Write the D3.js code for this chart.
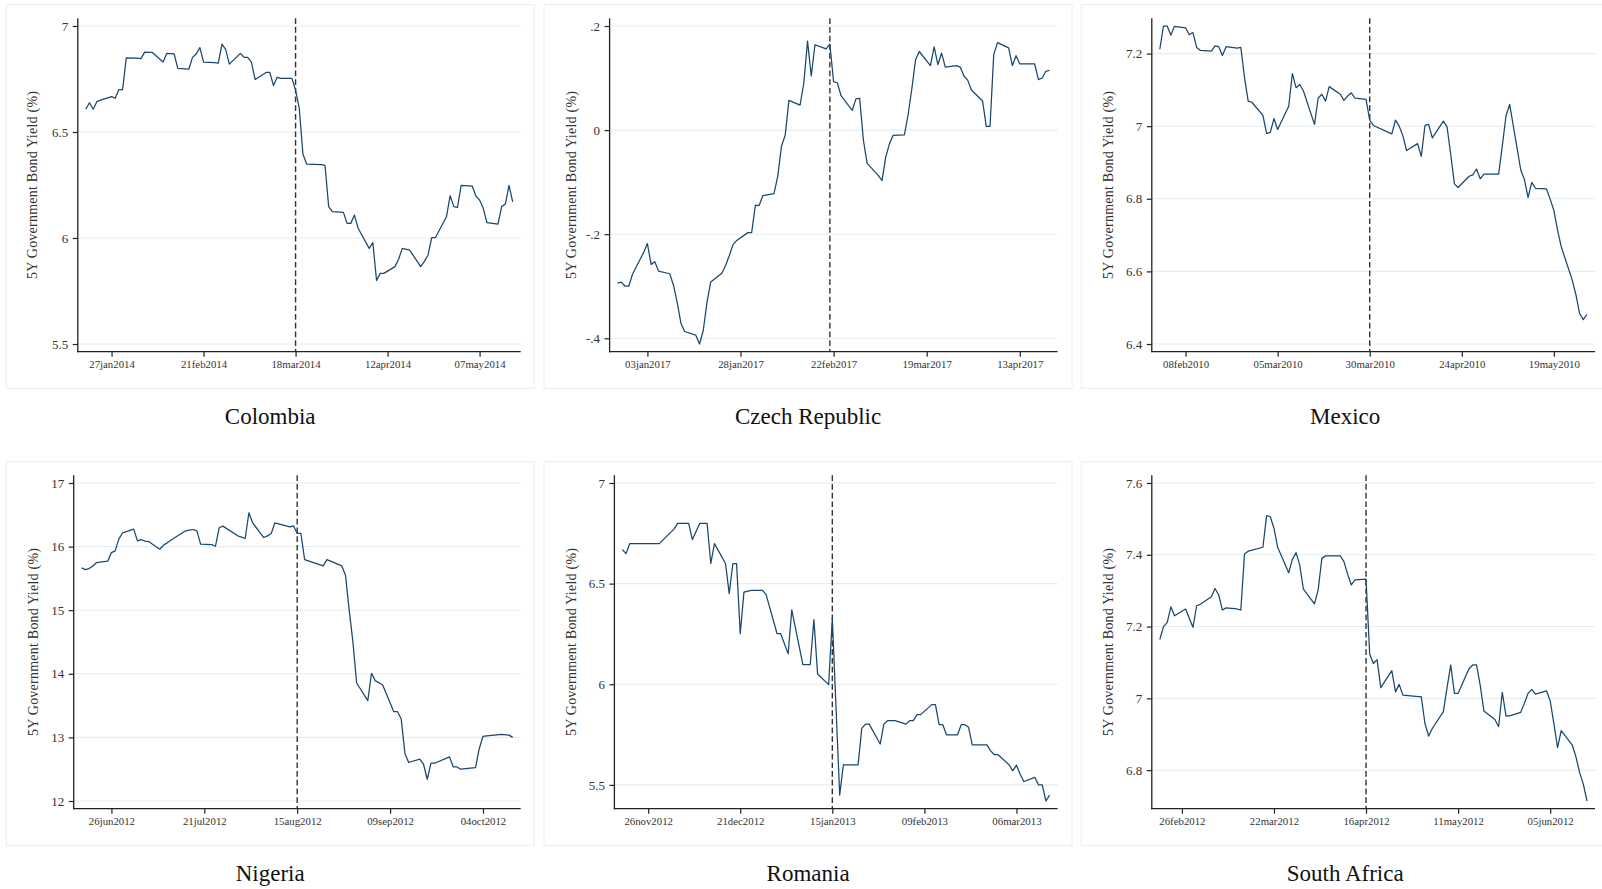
<!DOCTYPE html>
<html><head><meta charset="utf-8">
<script src="https://cdn.jsdelivr.net/npm/d3@7"></script>
<style>
body{margin:0;background:#fff}
svg{display:block}
text{font-family:"Liberation Serif","Times New Roman",serif}
</style>
</head><body>
<svg id="chart" width="1602" height="889"></svg>
<script>
// ---------- DATA ----------
const colombia = [["2014-01-20",6.607],["2014-01-21",6.638],["2014-01-22",6.607],["2014-01-23",6.643],["2014-01-24",6.650],["2014-01-27",6.667],["2014-01-28",6.659],["2014-01-29",6.700],["2014-01-30",6.700],["2014-01-31",6.850],["2014-02-03",6.848],["2014-02-04",6.846],["2014-02-05",6.877],["2014-02-06",6.876],["2014-02-07",6.876],["2014-02-10",6.830],["2014-02-11",6.871],["2014-02-12",6.870],["2014-02-13",6.868],["2014-02-14",6.800],["2014-02-17",6.796],["2014-02-18",6.852],["2014-02-19",6.868],["2014-02-20",6.898],["2014-02-21",6.830],["2014-02-24",6.827],["2014-02-25",6.825],["2014-02-26",6.914],["2014-02-27",6.890],["2014-02-28",6.820],["2014-03-03",6.871],["2014-03-04",6.852],["2014-03-05",6.852],["2014-03-06",6.830],["2014-03-07",6.748],["2014-03-10",6.781],["2014-03-11",6.781],["2014-03-12",6.719],["2014-03-13",6.758],["2014-03-14",6.753],["2014-03-17",6.753],["2014-03-18",6.698],["2014-03-19",6.612],["2014-03-20",6.396],["2014-03-21",6.349],["2014-03-25",6.346],["2014-03-26",6.343],["2014-03-27",6.148],["2014-03-28",6.124],["2014-03-31",6.121],["2014-04-01",6.069],["2014-04-02",6.069],["2014-04-03",6.108],["2014-04-04",6.046],["2014-04-07",5.951],["2014-04-08",5.978],["2014-04-09",5.800],["2014-04-10",5.833],["2014-04-11",5.833],["2014-04-14",5.865],["2014-04-15",5.900],["2014-04-16",5.951],["2014-04-18",5.943],["2014-04-21",5.865],["2014-04-22",5.890],["2014-04-23",5.920],["2014-04-24",6.002],["2014-04-25",6.002],["2014-04-28",6.100],["2014-04-29",6.200],["2014-04-30",6.148],["2014-05-01",6.145],["2014-05-02",6.248],["2014-05-05",6.245],["2014-05-06",6.198],["2014-05-07",6.179],["2014-05-08",6.140],["2014-05-09",6.072],["2014-05-12",6.066],["2014-05-13",6.148],["2014-05-14",6.160],["2014-05-15",6.248],["2014-05-16",6.170]];

const czechRepublic = [["2016-12-26",-0.294],["2016-12-27",-0.292],["2016-12-28",-0.300],["2016-12-29",-0.300],["2016-12-30",-0.277],["2017-01-02",-0.235],["2017-01-03",-0.218],["2017-01-04",-0.258],["2017-01-05",-0.253],["2017-01-06",-0.271],["2017-01-09",-0.276],["2017-01-10",-0.298],["2017-01-11",-0.331],["2017-01-12",-0.371],["2017-01-13",-0.387],["2017-01-16",-0.394],["2017-01-17",-0.411],["2017-01-18",-0.385],["2017-01-19",-0.331],["2017-01-20",-0.292],["2017-01-23",-0.275],["2017-01-24",-0.260],["2017-01-25",-0.241],["2017-01-26",-0.220],["2017-01-27",-0.212],["2017-01-30",-0.197],["2017-01-31",-0.197],["2017-02-01",-0.144],["2017-02-02",-0.145],["2017-02-03",-0.126],["2017-02-06",-0.122],["2017-02-07",-0.089],["2017-02-08",-0.031],["2017-02-09",-0.010],["2017-02-10",0.057],["2017-02-13",0.048],["2017-02-14",0.090],["2017-02-15",0.171],["2017-02-16",0.104],["2017-02-17",0.164],["2017-02-20",0.156],["2017-02-21",0.165],["2017-02-22",0.093],["2017-02-23",0.091],["2017-02-24",0.066],["2017-02-27",0.038],["2017-02-28",0.060],["2017-03-01",0.061],["2017-03-02",-0.019],["2017-03-03",-0.064],["2017-03-06",-0.087],["2017-03-07",-0.097],["2017-03-08",-0.052],["2017-03-09",-0.026],["2017-03-10",-0.010],["2017-03-13",-0.009],["2017-03-14",0.029],["2017-03-15",0.079],["2017-03-16",0.135],["2017-03-17",0.151],["2017-03-20",0.124],["2017-03-21",0.160],["2017-03-22",0.126],["2017-03-23",0.148],["2017-03-24",0.121],["2017-03-27",0.124],["2017-03-28",0.121],["2017-03-29",0.104],["2017-03-30",0.096],["2017-03-31",0.077],["2017-04-03",0.056],["2017-04-04",0.007],["2017-04-05",0.007],["2017-04-06",0.145],["2017-04-07",0.168],["2017-04-10",0.158],["2017-04-11",0.124],["2017-04-12",0.143],["2017-04-13",0.127],["2017-04-17",0.127],["2017-04-18",0.097],["2017-04-19",0.100],["2017-04-20",0.113],["2017-04-21",0.115]];

const mexico = [["2010-02-01",7.212],["2010-02-02",7.276],["2010-02-03",7.276],["2010-02-04",7.251],["2010-02-05",7.275],["2010-02-08",7.271],["2010-02-09",7.252],["2010-02-10",7.258],["2010-02-11",7.217],["2010-02-12",7.209],["2010-02-15",7.207],["2010-02-16",7.221],["2010-02-17",7.219],["2010-02-18",7.195],["2010-02-19",7.219],["2010-02-22",7.215],["2010-02-23",7.217],["2010-02-24",7.134],["2010-02-25",7.069],["2010-02-26",7.066],["2010-03-01",7.030],["2010-03-02",6.980],["2010-03-03",6.983],["2010-03-04",7.021],["2010-03-05",6.991],["2010-03-08",7.055],["2010-03-09",7.145],["2010-03-10",7.106],["2010-03-11",7.115],["2010-03-12",7.097],["2010-03-15",7.005],["2010-03-16",7.077],["2010-03-17",7.088],["2010-03-18",7.069],["2010-03-19",7.109],["2010-03-22",7.088],["2010-03-23",7.071],["2010-03-24",7.083],["2010-03-25",7.092],["2010-03-26",7.077],["2010-03-29",7.074],["2010-03-30",7.017],["2010-03-31",7.002],["2010-04-05",6.979],["2010-04-06",7.017],["2010-04-07",7.000],["2010-04-08",6.974],["2010-04-09",6.933],["2010-04-12",6.952],["2010-04-13",6.917],["2010-04-14",7.002],["2010-04-15",7.005],["2010-04-16",6.968],["2010-04-19",7.014],["2010-04-20",6.998],["2010-04-21",6.922],["2010-04-22",6.841],["2010-04-23",6.831],["2010-04-26",6.862],["2010-04-27",6.866],["2010-04-28",6.882],["2010-04-29",6.855],["2010-04-30",6.868],["2010-05-03",6.868],["2010-05-04",6.868],["2010-05-05",6.945],["2010-05-06",7.028],["2010-05-07",7.060],["2010-05-10",6.880],["2010-05-11",6.853],["2010-05-12",6.804],["2010-05-13",6.845],["2010-05-14",6.829],["2010-05-17",6.827],["2010-05-18",6.799],["2010-05-19",6.768],["2010-05-20",6.714],["2010-05-21",6.668],["2010-05-24",6.576],["2010-05-25",6.535],["2010-05-26",6.484],["2010-05-27",6.467],["2010-05-28",6.482]];

const nigeria = [["2012-06-18",15.665],["2012-06-19",15.638],["2012-06-20",15.654],["2012-06-21",15.696],["2012-06-22",15.749],["2012-06-25",15.770],["2012-06-26",15.906],["2012-06-27",15.933],["2012-06-28",16.117],["2012-06-29",16.217],["2012-07-02",16.274],["2012-07-03",16.090],["2012-07-04",16.111],["2012-07-05",16.085],["2012-07-06",16.080],["2012-07-09",15.959],["2012-07-10",16.022],["2012-07-11",16.059],["2012-07-12",16.100],["2012-07-13",16.140],["2012-07-16",16.248],["2012-07-17",16.259],["2012-07-18",16.269],["2012-07-19",16.248],["2012-07-20",16.038],["2012-07-23",16.033],["2012-07-24",16.006],["2012-07-25",16.296],["2012-07-26",16.322],["2012-07-30",16.169],["2012-07-31",16.150],["2012-08-01",16.127],["2012-08-02",16.532],["2012-08-03",16.374],["2012-08-06",16.143],["2012-08-07",16.169],["2012-08-08",16.206],["2012-08-09",16.374],["2012-08-13",16.311],["2012-08-14",16.327],["2012-08-15",16.206],["2012-08-16",16.206],["2012-08-17",15.796],["2012-08-22",15.696],["2012-08-23",15.796],["2012-08-27",15.696],["2012-08-28",15.549],["2012-08-29",14.997],["2012-08-30",14.497],["2012-08-31",13.856],["2012-09-03",13.577],["2012-09-04",14.008],["2012-09-05",13.893],["2012-09-07",13.824],["2012-09-10",13.404],["2012-09-11",13.404],["2012-09-12",13.288],["2012-09-13",12.747],["2012-09-14",12.605],["2012-09-17",12.657],["2012-09-18",12.578],["2012-09-19",12.342],["2012-09-20",12.594],["2012-09-21",12.594],["2012-09-25",12.694],["2012-09-26",12.536],["2012-09-27",12.536],["2012-09-28",12.500],["2012-10-02",12.526],["2012-10-03",12.826],["2012-10-04",13.015],["2012-10-05",13.025],["2012-10-09",13.046],["2012-10-11",13.036],["2012-10-12",13.000]];

const romania = [["2012-11-19",6.669],["2012-11-20",6.649],["2012-11-21",6.699],["2012-11-22",6.699],["2012-11-23",6.699],["2012-11-26",6.699],["2012-11-27",6.699],["2012-11-28",6.699],["2012-11-29",6.699],["2012-12-03",6.771],["2012-12-04",6.799],["2012-12-05",6.799],["2012-12-06",6.799],["2012-12-07",6.799],["2012-12-08",6.719],["2012-12-10",6.799],["2012-12-11",6.799],["2012-12-12",6.799],["2012-12-13",6.600],["2012-12-14",6.699],["2012-12-17",6.600],["2012-12-18",6.450],["2012-12-19",6.600],["2012-12-20",6.600],["2012-12-21",6.251],["2012-12-22",6.458],["2012-12-24",6.467],["2012-12-27",6.467],["2012-12-28",6.447],["2012-12-31",6.251],["2013-01-01",6.251],["2013-01-03",6.151],["2013-01-04",6.370],["2013-01-07",6.098],["2013-01-09",6.098],["2013-01-10",6.321],["2013-01-11",6.051],["2013-01-14",5.998],["2013-01-15",6.326],["2013-01-17",5.449],["2013-01-18",5.600],["2013-01-22",5.600],["2013-01-23",5.781],["2013-01-24",5.802],["2013-01-25",5.802],["2013-01-28",5.703],["2013-01-29",5.802],["2013-01-30",5.819],["2013-02-01",5.819],["2013-02-04",5.802],["2013-02-05",5.819],["2013-02-06",5.819],["2013-02-07",5.849],["2013-02-08",5.849],["2013-02-11",5.899],["2013-02-12",5.899],["2013-02-13",5.799],["2013-02-14",5.799],["2013-02-15",5.749],["2013-02-18",5.749],["2013-02-19",5.799],["2013-02-20",5.799],["2013-02-21",5.786],["2013-02-22",5.699],["2013-02-26",5.699],["2013-02-27",5.669],["2013-02-28",5.650],["2013-03-01",5.650],["2013-03-04",5.600],["2013-03-05",5.570],["2013-03-06",5.598],["2013-03-07",5.553],["2013-03-08",5.517],["2013-03-11",5.537],["2013-03-12",5.500],["2013-03-13",5.500],["2013-03-14",5.420],["2013-03-15",5.449]];

const southAfrica = [["2012-02-20",7.164],["2012-02-21",7.200],["2012-02-22",7.211],["2012-02-23",7.255],["2012-02-24",7.230],["2012-02-27",7.249],["2012-02-28",7.223],["2012-02-29",7.198],["2012-03-01",7.258],["2012-03-02",7.262],["2012-03-05",7.283],["2012-03-06",7.306],["2012-03-07",7.288],["2012-03-08",7.246],["2012-03-09",7.252],["2012-03-12",7.249],["2012-03-13",7.246],["2012-03-14",7.402],["2012-03-15",7.410],["2012-03-19",7.421],["2012-03-20",7.509],["2012-03-21",7.506],["2012-03-22",7.474],["2012-03-23",7.421],["2012-03-26",7.350],["2012-03-27",7.387],["2012-03-28",7.406],["2012-03-29",7.371],["2012-03-30",7.304],["2012-04-02",7.263],["2012-04-03",7.302],["2012-04-04",7.390],["2012-04-05",7.397],["2012-04-09",7.397],["2012-04-10",7.381],["2012-04-11",7.346],["2012-04-12",7.316],["2012-04-13",7.330],["2012-04-16",7.332],["2012-04-17",7.123],["2012-04-18",7.097],["2012-04-19",7.108],["2012-04-20",7.030],["2012-04-23",7.077],["2012-04-24",7.018],["2012-04-25",7.039],["2012-04-26",7.009],["2012-05-01",7.004],["2012-05-02",6.930],["2012-05-03",6.895],["2012-05-04",6.916],["2012-05-07",6.963],["2012-05-08",7.030],["2012-05-09",7.093],["2012-05-10",7.014],["2012-05-11",7.014],["2012-05-14",7.083],["2012-05-15",7.093],["2012-05-16",7.093],["2012-05-17",7.037],["2012-05-18",6.965],["2012-05-21",6.941],["2012-05-22",6.921],["2012-05-23",7.017],["2012-05-24",6.951],["2012-05-25",6.951],["2012-05-28",6.961],["2012-05-29",6.986],["2012-05-30",7.014],["2012-05-31",7.025],["2012-06-01",7.012],["2012-06-04",7.021],["2012-06-05",6.993],["2012-06-06",6.930],["2012-06-07",6.863],["2012-06-08",6.910],["2012-06-11",6.870],["2012-06-12",6.837],["2012-06-13",6.793],["2012-06-14",6.761],["2012-06-15",6.714]];

const countries = ["Colombia","Czech Republic","Mexico","Nigeria","Romania","South Africa"];
const eventDates = ["2014-03-18","2017-02-21","2010-03-30","2012-08-15","2013-01-15","2012-04-16"];
const yTickValues = [[5.5,6,6.5,7],[-0.4,-0.2,0,0.2],[6.4,6.6,6.8,7,7.2],[12,13,14,15,16,17],[5.5,6,6.5,7],[6.8,7,7.2,7.4,7.6]];
const yTickLabels = [["5.5","6","6.5","7"],["-.4","-.2","0",".2"],["6.4","6.6","6.8","7","7.2"],["12","13","14","15","16","17"],["5.5","6","6.5","7"],["6.8","7","7.2","7.4","7.6"]];
const xTickDates = [
  ["2014-01-27","2014-02-21","2014-03-18","2014-04-12","2014-05-07"],
  ["2017-01-03","2017-01-28","2017-02-22","2017-03-19","2017-04-13"],
  ["2010-02-08","2010-03-05","2010-03-30","2010-04-24","2010-05-19"],
  ["2012-06-26","2012-07-21","2012-08-15","2012-09-09","2012-10-04"],
  ["2012-11-26","2012-12-21","2013-01-15","2013-02-09","2013-03-06"],
  ["2012-02-26","2012-03-22","2012-04-16","2012-05-11","2012-06-05"]
];
const yAxisTitle = "5Y Government Bond Yield (%)";

// ---------- LAYOUT ----------
const series = [colombia, czechRepublic, mexico, nigeria, romania, southAfrica];
const panelX = [6.2, 544.1, 1081.2, 6.2, 544.1, 1081.2];
const rowOff = [0, 0, 0, 457, 457, 457];
const panelW = 528, panelTop = 4.7, panelH = 383.6;
const axisX = [77.8, 609.6, 1151.8, 73.7, 614.4, 1151.8];
const plotR = [520.7, 1057.6, 1595, 520.7, 1057.6, 1595];
const axisTop = 18.3, axisBottom = 351.7;
const yTitleX = [36.5, 576, 1113, 38, 575.5, 1113];
const titleBase = 424.3;

const parse = d3.timeParse("%Y-%m-%d");
const fmt = d3.timeFormat("%d%b%Y");
const svg = d3.select("#chart");
const navy = "#1a476f", gridC = "#e4eef1", borderC = "#e6eef0", axisC = "#222";

series.forEach((raw, i) => {
  const data = raw.map(([d, v]) => ({date: parse(d), value: v}));
  const oy = rowOff[i];
  const top = axisTop + oy, bottom = axisBottom + oy;
  const g = svg.append("g");

  g.append("rect").attr("x", panelX[i]).attr("y", panelTop + oy)
    .attr("width", panelW).attr("height", panelH)
    .attr("fill", "#fff").attr("stroke", borderC).attr("stroke-width", 1);

  const x = d3.scaleTime().domain(d3.extent(data, d => d.date))
    .range([axisX[i] + 8, plotR[i] - 8]);
  const yMin = Math.min(d3.min(data, d => d.value), d3.min(yTickValues[i]));
  const yMax = Math.max(d3.max(data, d => d.value), d3.max(yTickValues[i]));
  const y = d3.scaleLinear().domain([yMin, yMax]).range([bottom - 7.7, top + 7.7]);

  // gridlines
  g.append("g").selectAll("line").data(yTickValues[i]).join("line")
    .attr("x1", axisX[i]).attr("x2", plotR[i])
    .attr("y1", d => y(d)).attr("y2", d => y(d))
    .attr("stroke", gridC).attr("stroke-width", 1.1);

  // event line
  const ev = x(parse(eventDates[i]));
  g.append("line").attr("x1", ev).attr("x2", ev).attr("y1", top).attr("y2", bottom)
    .attr("stroke", "#333").attr("stroke-width", 1.4).attr("stroke-dasharray", "5.7,3");

  // data line
  g.append("path").datum(data)
    .attr("fill", "none").attr("stroke", navy).attr("stroke-width", 1.25)
    .attr("stroke-linejoin", "round")
    .attr("d", d3.line().x(d => x(d.date)).y(d => y(d.value)));

  // y axis
  const ya = g.append("g").attr("transform", `translate(${axisX[i]},0)`)
    .call(d3.axisLeft(y).tickValues(yTickValues[i])
      .tickFormat((d, k) => yTickLabels[i][k]).tickSize(5).tickPadding(4.5));
  ya.select(".domain").remove();
  ya.selectAll(".tick line").attr("stroke", axisC).attr("stroke-width", 1.2);
  ya.selectAll("text").attr("font-size", "13px").attr("fill", "#333")
    .attr("font-family", "Liberation Serif, serif");
  g.append("line").attr("x1", axisX[i]).attr("x2", axisX[i]).attr("y1", top).attr("y2", bottom + 0.6)
    .attr("stroke", axisC).attr("stroke-width", 1.3);

  // x axis
  const xa = g.append("g").attr("transform", `translate(0,${bottom})`)
    .call(d3.axisBottom(x).tickValues(xTickDates[i].map(parse))
      .tickFormat(d => fmt(d).toLowerCase()).tickSize(5));
  xa.select(".domain").remove();
  xa.selectAll(".tick line").attr("stroke", axisC).attr("stroke-width", 1.2);
  xa.selectAll("text").attr("y", 16.6).attr("dy", null)
    .attr("font-size", "10.8px").attr("fill", "#333")
    .attr("font-family", "Liberation Serif, serif");
  g.append("line").attr("x1", axisX[i] - 0.6).attr("x2", plotR[i]).attr("y1", bottom).attr("y2", bottom)
    .attr("stroke", axisC).attr("stroke-width", 1.3);

  // y axis title
  const ty = (top + bottom) / 2;
  g.append("text").attr("transform", `translate(${yTitleX[i]},${ty}) rotate(-90)`)
    .attr("text-anchor", "middle").attr("font-size", "14px").attr("fill", "#333")
    .attr("textLength", 188).attr("lengthAdjust", "spacing")
    .text(yAxisTitle);

  // panel title
  g.append("text").attr("x", panelX[i] + panelW / 2).attr("y", titleBase + oy)
    .attr("text-anchor", "middle").attr("font-size", "23px").attr("fill", "#111")
    .text(countries[i]);
});
</script>
</body></html>
